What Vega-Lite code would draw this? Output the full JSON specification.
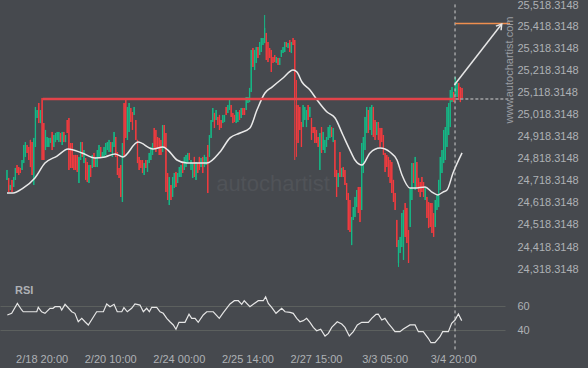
{
"$schema":"https://vega.github.io/schema/vega-lite/v6.json",
"width":505,"height":350,
"autosize":{"type":"none"},
"padding":{"left":0,"top":0,"right":83,"bottom":18},
"background":"#46494e",
"config":{"view":{"stroke":null},"font":"Liberation Sans","axis":{"labelFont":"Liberation Sans","labelFontSize":11,"labelColor":"#aeb1b5","ticks":false,"domain":false,"grid":false}},
"datasets":{
"candles":[
{"k":0,"o":24722,"h":24767,"l":24722,"c":24767},{"k":1,"o":24731,"h":24731,"l":24667,"c":24667},{"k":2,"o":24676,"h":24699,"l":24676,"c":24699},{"k":3,"o":24722,"h":24722,"l":24667,"c":24667},{"k":4,"o":24690,"h":24735,"l":24690,"c":24735},{"k":5,"o":24722,"h":24776,"l":24722,"c":24776},{"k":6,"o":24789,"h":24789,"l":24753,"c":24753},{"k":7,"o":24780,"h":24780,"l":24744,"c":24744},{"k":8,"o":24776,"h":24776,"l":24753,"c":24753},{"k":9,"o":24767,"h":24812,"l":24767,"c":24812},
{"k":10,"o":24798,"h":24880,"l":24798,"c":24880},{"k":11,"o":24826,"h":24893,"l":24826,"c":24893},{"k":12,"o":24880,"h":24880,"l":24844,"c":24844},{"k":13,"o":24871,"h":24871,"l":24812,"c":24812},{"k":14,"o":24903,"h":24903,"l":24780,"c":24780},{"k":15,"o":24893,"h":24893,"l":24744,"c":24744},{"k":16,"o":24699,"h":24912,"l":24699,"c":24912},{"k":17,"o":24871,"h":25052,"l":24871,"c":25052},{"k":18,"o":25002,"h":25038,"l":25002,"c":25038},{"k":19,"o":25070,"h":25070,"l":24979,"c":24979},
{"k":20,"o":24979,"h":25038,"l":24979,"c":25038},{"k":21,"o":25093,"h":25093,"l":24812,"c":24812},{"k":22,"o":24979,"h":24979,"l":24812,"c":24812},{"k":23,"o":24857,"h":24948,"l":24857,"c":24948},{"k":24,"o":24871,"h":24916,"l":24871,"c":24916},{"k":25,"o":24871,"h":24912,"l":24871,"c":24912},{"k":26,"o":24889,"h":24912,"l":24889,"c":24912},{"k":27,"o":24939,"h":24939,"l":24857,"c":24857},{"k":28,"o":24871,"h":24925,"l":24871,"c":24925},{"k":29,"o":24893,"h":24934,"l":24893,"c":24934},
{"k":30,"o":24903,"h":24939,"l":24903,"c":24939},{"k":31,"o":24893,"h":24939,"l":24893,"c":24939},{"k":32,"o":24934,"h":24934,"l":24893,"c":24893},{"k":33,"o":24880,"h":24939,"l":24880,"c":24939},{"k":34,"o":24939,"h":24939,"l":24893,"c":24893},{"k":35,"o":24893,"h":24925,"l":24893,"c":24925},{"k":36,"o":24993,"h":24993,"l":24934,"c":24934},{"k":37,"o":25002,"h":25002,"l":24767,"c":24767},{"k":38,"o":24889,"h":24889,"l":24776,"c":24776},{"k":39,"o":24889,"h":24889,"l":24776,"c":24776},
{"k":40,"o":24835,"h":24835,"l":24767,"c":24767},{"k":41,"o":24835,"h":24835,"l":24767,"c":24767},{"k":42,"o":24835,"h":24835,"l":24758,"c":24758},{"k":43,"o":24708,"h":24826,"l":24708,"c":24826},{"k":44,"o":24812,"h":24893,"l":24812,"c":24893},{"k":45,"o":24893,"h":24893,"l":24826,"c":24826},{"k":46,"o":24798,"h":24857,"l":24798,"c":24857},{"k":47,"o":24821,"h":24821,"l":24722,"c":24722},{"k":48,"o":24803,"h":24803,"l":24712,"c":24712},{"k":49,"o":24708,"h":24789,"l":24708,"c":24789},
{"k":50,"o":24789,"h":24789,"l":24735,"c":24735},{"k":51,"o":24776,"h":24835,"l":24776,"c":24835},{"k":52,"o":24844,"h":24844,"l":24780,"c":24780},{"k":53,"o":24780,"h":24826,"l":24780,"c":24826},{"k":54,"o":24780,"h":24857,"l":24780,"c":24857},{"k":55,"o":24821,"h":24880,"l":24821,"c":24880},{"k":56,"o":24871,"h":24871,"l":24821,"c":24821},{"k":57,"o":24826,"h":24848,"l":24826,"c":24848},{"k":58,"o":24821,"h":24871,"l":24821,"c":24871},{"k":59,"o":24835,"h":24889,"l":24835,"c":24889},
{"k":60,"o":24857,"h":24893,"l":24857,"c":24893},{"k":61,"o":24848,"h":24903,"l":24848,"c":24903},{"k":62,"o":24893,"h":24893,"l":24848,"c":24848},{"k":63,"o":24826,"h":24893,"l":24826,"c":24893},{"k":64,"o":24871,"h":24939,"l":24871,"c":24939},{"k":65,"o":24916,"h":24916,"l":24826,"c":24826},{"k":66,"o":24848,"h":24848,"l":24744,"c":24744},{"k":67,"o":24776,"h":24776,"l":24731,"c":24731},{"k":68,"o":24789,"h":24789,"l":24645,"c":24645},{"k":69,"o":24622,"h":24889,"l":24622,"c":24889},
{"k":70,"o":25070,"h":25070,"l":24826,"c":24826},{"k":71,"o":25084,"h":25084,"l":24912,"c":24912},{"k":72,"o":24903,"h":25052,"l":24903,"c":25052},{"k":73,"o":24939,"h":25070,"l":24939,"c":25070},{"k":74,"o":25047,"h":25047,"l":24984,"c":24984},{"k":75,"o":25029,"h":25029,"l":24948,"c":24948},{"k":76,"o":25016,"h":25052,"l":25016,"c":25052},{"k":77,"o":24993,"h":24993,"l":24903,"c":24903},{"k":78,"o":24903,"h":24903,"l":24798,"c":24798},{"k":79,"o":24826,"h":24826,"l":24767,"c":24767},
{"k":80,"o":24812,"h":24812,"l":24776,"c":24776},{"k":81,"o":24812,"h":24812,"l":24753,"c":24753},{"k":82,"o":24744,"h":24798,"l":24744,"c":24798},{"k":83,"o":24812,"h":24812,"l":24776,"c":24776},{"k":84,"o":24758,"h":24812,"l":24758,"c":24812},{"k":85,"o":24798,"h":24844,"l":24798,"c":24844},{"k":86,"o":24812,"h":24871,"l":24812,"c":24871},{"k":87,"o":24835,"h":24889,"l":24835,"c":24889},{"k":88,"o":24957,"h":24957,"l":24866,"c":24866},{"k":89,"o":24948,"h":24948,"l":24848,"c":24848},
{"k":90,"o":24916,"h":24916,"l":24866,"c":24866},{"k":91,"o":24912,"h":24912,"l":24835,"c":24835},{"k":92,"o":24903,"h":24903,"l":24835,"c":24835},{"k":93,"o":24848,"h":24970,"l":24848,"c":24970},{"k":94,"o":24970,"h":24970,"l":24871,"c":24871},{"k":95,"o":24934,"h":24934,"l":24667,"c":24667},{"k":96,"o":24753,"h":24753,"l":24631,"c":24631},{"k":97,"o":24608,"h":24735,"l":24608,"c":24735},{"k":98,"o":24699,"h":24699,"l":24631,"c":24631},{"k":99,"o":24645,"h":24735,"l":24645,"c":24735},
{"k":100,"o":24685,"h":24753,"l":24685,"c":24753},{"k":101,"o":24758,"h":24758,"l":24690,"c":24690},{"k":102,"o":24708,"h":24753,"l":24708,"c":24753},{"k":103,"o":24735,"h":24780,"l":24735,"c":24780},{"k":104,"o":24735,"h":24789,"l":24735,"c":24789},{"k":105,"o":24803,"h":24803,"l":24753,"c":24753},{"k":106,"o":24767,"h":24826,"l":24767,"c":24826},{"k":107,"o":24780,"h":24835,"l":24780,"c":24835},{"k":108,"o":24798,"h":24844,"l":24798,"c":24844},{"k":109,"o":24844,"h":24844,"l":24812,"c":24812},
{"k":110,"o":24767,"h":24812,"l":24767,"c":24812},{"k":111,"o":24731,"h":24798,"l":24731,"c":24798},{"k":112,"o":24826,"h":24826,"l":24735,"c":24735},{"k":113,"o":24722,"h":24803,"l":24722,"c":24803},{"k":114,"o":24798,"h":24798,"l":24753,"c":24753},{"k":115,"o":24826,"h":24826,"l":24767,"c":24767},{"k":116,"o":24780,"h":24821,"l":24780,"c":24821},{"k":117,"o":24826,"h":24826,"l":24753,"c":24753},{"k":118,"o":24780,"h":24835,"l":24780,"c":24835},{"k":119,"o":24789,"h":24826,"l":24789,"c":24826},
{"k":120,"o":24880,"h":24880,"l":24663,"c":24663},{"k":121,"o":24826,"h":24925,"l":24826,"c":24925},{"k":122,"o":24912,"h":24993,"l":24912,"c":24993},{"k":123,"o":24984,"h":25047,"l":24984,"c":25047},{"k":124,"o":25025,"h":25025,"l":24957,"c":24957},{"k":125,"o":24993,"h":25038,"l":24993,"c":25038},{"k":126,"o":25007,"h":25007,"l":24970,"c":24970},{"k":127,"o":25016,"h":25016,"l":24948,"c":24948},{"k":128,"o":24993,"h":24993,"l":24957,"c":24957},{"k":129,"o":24979,"h":25016,"l":24979,"c":25016},
{"k":130,"o":24984,"h":25016,"l":24984,"c":25016},{"k":131,"o":25052,"h":25052,"l":25016,"c":25016},{"k":132,"o":25025,"h":25061,"l":25025,"c":25061},{"k":133,"o":25038,"h":25084,"l":25038,"c":25084},{"k":134,"o":25061,"h":25061,"l":25007,"c":25007},{"k":135,"o":25025,"h":25025,"l":24979,"c":24979},{"k":136,"o":25016,"h":25016,"l":24984,"c":24984},{"k":137,"o":24979,"h":25038,"l":24979,"c":25038},{"k":138,"o":24984,"h":25029,"l":24984,"c":25029},{"k":139,"o":25038,"h":25038,"l":24993,"c":24993},
{"k":140,"o":25002,"h":25047,"l":25002,"c":25047},{"k":141,"o":25047,"h":25047,"l":25016,"c":25016},{"k":142,"o":25047,"h":25047,"l":25016,"c":25016},{"k":143,"o":25038,"h":25097,"l":25038,"c":25097},{"k":144,"o":25070,"h":25097,"l":25070,"c":25097},{"k":145,"o":25074,"h":25138,"l":25074,"c":25138},{"k":146,"o":25120,"h":25310,"l":25120,"c":25310},{"k":147,"o":25319,"h":25319,"l":25233,"c":25233},{"k":148,"o":25219,"h":25310,"l":25219,"c":25310},{"k":149,"o":25251,"h":25323,"l":25251,"c":25323},
{"k":150,"o":25323,"h":25323,"l":25274,"c":25274},{"k":151,"o":25287,"h":25346,"l":25287,"c":25346},{"k":152,"o":25301,"h":25364,"l":25301,"c":25364},{"k":153,"o":25332,"h":25364,"l":25332,"c":25364},{"k":154,"o":25341,"h":25468,"l":25341,"c":25410},{"k":155,"o":25387,"h":25387,"l":25265,"c":25265},{"k":156,"o":25346,"h":25346,"l":25255,"c":25255},{"k":157,"o":25319,"h":25319,"l":25274,"c":25274},{"k":158,"o":25310,"h":25310,"l":25210,"c":25210},{"k":159,"o":25278,"h":25278,"l":25251,"c":25251},
{"k":160,"o":25287,"h":25287,"l":25255,"c":25255},{"k":161,"o":25251,"h":25278,"l":25251,"c":25278},{"k":162,"o":25274,"h":25274,"l":25242,"c":25242},{"k":163,"o":25242,"h":25274,"l":25242,"c":25274},{"k":164,"o":25278,"h":25310,"l":25278,"c":25310},{"k":165,"o":25296,"h":25323,"l":25296,"c":25323},{"k":166,"o":25301,"h":25346,"l":25301,"c":25346},{"k":167,"o":25346,"h":25346,"l":25323,"c":25323},{"k":168,"o":25319,"h":25341,"l":25319,"c":25341},{"k":169,"o":25355,"h":25355,"l":25301,"c":25301},
{"k":170,"o":25296,"h":25346,"l":25296,"c":25346},{"k":171,"o":25364,"h":25364,"l":25332,"c":25332},{"k":172,"o":25355,"h":25355,"l":24812,"c":25084},{"k":173,"o":25061,"h":25174,"l":24826,"c":24903},{"k":174,"o":25061,"h":25061,"l":24889,"c":24889},{"k":175,"o":25052,"h":25052,"l":24948,"c":24948},{"k":176,"o":24984,"h":24984,"l":24871,"c":24871},{"k":177,"o":24961,"h":25061,"l":24961,"c":25061},{"k":178,"o":24993,"h":25052,"l":24993,"c":25052},{"k":179,"o":24961,"h":25038,"l":24961,"c":25038},
{"k":180,"o":25061,"h":25061,"l":24993,"c":24993},{"k":181,"o":25007,"h":25052,"l":25007,"c":25052},{"k":182,"o":25002,"h":25002,"l":24903,"c":24903},{"k":183,"o":24961,"h":24961,"l":24934,"c":24934},{"k":184,"o":24961,"h":24961,"l":24889,"c":24889},{"k":185,"o":24948,"h":24948,"l":24889,"c":24889},{"k":186,"o":24916,"h":24916,"l":24871,"c":24871},{"k":187,"o":24767,"h":24934,"l":24767,"c":24934},{"k":188,"o":24961,"h":24961,"l":24844,"c":24844},{"k":189,"o":24857,"h":24939,"l":24857,"c":24939},
{"k":190,"o":24844,"h":24903,"l":24844,"c":24903},{"k":191,"o":24871,"h":24916,"l":24871,"c":24916},{"k":192,"o":24903,"h":24961,"l":24903,"c":24961},{"k":193,"o":24912,"h":24970,"l":24912,"c":24970},{"k":194,"o":24961,"h":24961,"l":24916,"c":24916},{"k":195,"o":24893,"h":24957,"l":24893,"c":24957},{"k":196,"o":24903,"h":24903,"l":24735,"c":24735},{"k":197,"o":24767,"h":24767,"l":24645,"c":24645},{"k":198,"o":24690,"h":24753,"l":24690,"c":24753},{"k":199,"o":24848,"h":24848,"l":24735,"c":24735},
{"k":200,"o":24735,"h":24776,"l":24735,"c":24776},{"k":201,"o":24780,"h":24780,"l":24735,"c":24735},{"k":202,"o":24767,"h":24767,"l":24699,"c":24699},{"k":203,"o":24708,"h":24708,"l":24631,"c":24631},{"k":204,"o":24663,"h":24663,"l":24495,"c":24495},{"k":205,"o":24631,"h":24631,"l":24486,"c":24486},{"k":206,"o":24427,"h":24554,"l":24427,"c":24554},{"k":207,"o":24541,"h":24599,"l":24541,"c":24599},{"k":208,"o":24554,"h":24645,"l":24554,"c":24645},{"k":209,"o":24599,"h":24676,"l":24599,"c":24676},
{"k":210,"o":24690,"h":24690,"l":24572,"c":24572},{"k":211,"o":24690,"h":24690,"l":24531,"c":24531},{"k":212,"o":24586,"h":24889,"l":24586,"c":24889},{"k":213,"o":24753,"h":24916,"l":24753,"c":24916},{"k":214,"o":24857,"h":25007,"l":24857,"c":25007},{"k":215,"o":24934,"h":25052,"l":24934,"c":25052},{"k":216,"o":25038,"h":25038,"l":24934,"c":24934},{"k":217,"o":24948,"h":25052,"l":24948,"c":25052},{"k":218,"o":24925,"h":25061,"l":24925,"c":25061},{"k":219,"o":25052,"h":25052,"l":24916,"c":24916},
{"k":220,"o":24993,"h":24993,"l":24903,"c":24903},{"k":221,"o":24925,"h":24984,"l":24925,"c":24984},{"k":222,"o":24984,"h":24984,"l":24903,"c":24903},{"k":223,"o":24957,"h":24957,"l":24871,"c":24871},{"k":224,"o":24957,"h":24957,"l":24893,"c":24893},{"k":225,"o":24925,"h":24925,"l":24835,"c":24835},{"k":226,"o":24844,"h":24844,"l":24758,"c":24758},{"k":227,"o":24835,"h":24835,"l":24780,"c":24780},{"k":228,"o":24826,"h":24826,"l":24735,"c":24735},{"k":229,"o":24812,"h":24812,"l":24708,"c":24708},
{"k":230,"o":24803,"h":24803,"l":24663,"c":24663},{"k":231,"o":24722,"h":24722,"l":24622,"c":24622},{"k":232,"o":24663,"h":24663,"l":24586,"c":24586},{"k":233,"o":24541,"h":24541,"l":24418,"c":24418},{"k":234,"o":24346,"h":24450,"l":24328,"c":24450},{"k":235,"o":24391,"h":24464,"l":24391,"c":24464},{"k":236,"o":24418,"h":24572,"l":24418,"c":24572},{"k":237,"o":24360,"h":24586,"l":24360,"c":24586},{"k":238,"o":24617,"h":24617,"l":24464,"c":24464},{"k":239,"o":24595,"h":24595,"l":24436,"c":24436},
{"k":240,"o":24495,"h":24495,"l":24346,"c":24346},{"k":241,"o":24509,"h":24685,"l":24509,"c":24685},{"k":242,"o":24631,"h":24798,"l":24631,"c":24798},{"k":243,"o":24798,"h":24798,"l":24708,"c":24708},{"k":244,"o":24676,"h":24826,"l":24676,"c":24826},{"k":245,"o":24803,"h":24803,"l":24685,"c":24685},{"k":246,"o":24731,"h":24731,"l":24667,"c":24667},{"k":247,"o":24712,"h":24712,"l":24645,"c":24645},{"k":248,"o":24735,"h":24735,"l":24667,"c":24667},{"k":249,"o":24712,"h":24712,"l":24645,"c":24645},
{"k":250,"o":24631,"h":24690,"l":24631,"c":24690},{"k":251,"o":24645,"h":24645,"l":24550,"c":24550},{"k":252,"o":24622,"h":24622,"l":24504,"c":24504},{"k":253,"o":24617,"h":24617,"l":24509,"c":24509},{"k":254,"o":24617,"h":24617,"l":24482,"c":24482},{"k":255,"o":24572,"h":24572,"l":24464,"c":24464},{"k":256,"o":24509,"h":24631,"l":24509,"c":24631},{"k":257,"o":24586,"h":24654,"l":24586,"c":24654},{"k":258,"o":24599,"h":24722,"l":24599,"c":24722},{"k":259,"o":24676,"h":24826,"l":24676,"c":24826},
{"k":260,"o":24753,"h":24857,"l":24753,"c":24857},{"k":261,"o":24798,"h":24948,"l":24798,"c":24948},{"k":262,"o":24812,"h":24961,"l":24812,"c":24961},{"k":263,"o":24871,"h":25052,"l":24871,"c":25052},{"k":264,"o":24925,"h":25070,"l":24925,"c":25070},{"k":265,"o":24961,"h":25129,"l":24961,"c":25129},{"k":266,"o":25074,"h":25142,"l":25074,"c":25142},{"k":267,"o":25120,"h":25120,"l":25074,"c":25074},{"k":268,"o":25106,"h":25188,"l":25106,"c":25188},{"k":269,"o":25097,"h":25160,"l":25097,"c":25160},
{"k":270,"o":25160,"h":25160,"l":25084,"c":25084},{"k":271,"o":25142,"h":25142,"l":25074,"c":25074},{"k":272,"o":25138,"h":25138,"l":25093,"c":25093}
],
"ma":[
{"k":0,"p":24663},{"k":3.6,"p":24663},{"k":9.6,"p":24685},{"k":16.7,"p":24731},{"k":22.7,"p":24798},{"k":29.9,"p":24830},{"k":36.5,"p":24862},{"k":44.8,"p":24844},{"k":52.6,"p":24821},{"k":58.6,"p":24826},{"k":64.6,"p":24839},{"k":69.3,"p":24826},{"k":78.3,"p":24893},{"k":87.3,"p":24862},{"k":93.2,"p":24871},{"k":96.2,"p":24857},{"k":101.6,"p":24812},{"k":107.6,"p":24798},{"k":119.5,"p":24798},{"k":127.3,"p":24848},{"k":133.3,"p":24912},{"k":139.3,"p":24934},{"k":145.2,"p":24957},{"k":149.4,"p":25038},{"k":154.2,"p":25115},{"k":158.4,"p":25142},{"k":165,"p":25183},{"k":171,"p":25219},{"k":173.3,"p":25210},{"k":176.3,"p":25165},{"k":181.1,"p":25129},{"k":185.3,"p":25084},{"k":191.3,"p":25029},{"k":196.1,"p":25002},{"k":200.8,"p":24925},{"k":205,"p":24857},{"k":208,"p":24812},{"k":212.2,"p":24789},{"k":217,"p":24844},{"k":223,"p":24866},{"k":228.9,"p":24848},{"k":233.1,"p":24812},{"k":236.1,"p":24744},{"k":240.9,"p":24685},{"k":243.9,"p":24685},{"k":249.9,"p":24690},{"k":254,"p":24667},{"k":257.6,"p":24654},{"k":260.6,"p":24667},{"k":263,"p":24676},{"k":266.6,"p":24753},{"k":272,"p":24844}
],
"rsi":[
{"k":0.2,"r":52.5},{"k":2.8,"r":53.9},{"k":6.2,"r":62.2},{"k":8.8,"r":56.7},{"k":9.7,"r":55.2},{"k":17.8,"r":55.2},{"k":18.7,"r":58.9},{"k":20.7,"r":55.2},{"k":22.7,"r":53.9},{"k":25.7,"r":58.1},{"k":27.5,"r":58.1},{"k":28.7,"r":59.4},{"k":31.7,"r":59.4},{"k":32.7,"r":56.7},{"k":34.7,"r":61.4},{"k":38.7,"r":55.2},{"k":40.6,"r":53.9},{"k":42.6,"r":46.9},{"k":44.7,"r":49.7},{"k":46.6,"r":46.9},{"k":48.6,"r":44.2},{"k":53.6,"r":55.2},{"k":57.6,"r":55.2},{"k":59.6,"r":61.7},{"k":61.6,"r":59.4},{"k":64,"r":61.4},{"k":65.9,"r":55.2},{"k":68.6,"r":55.2},{"k":69.9,"r":58.6},{"k":71.9,"r":55.2},{"k":74.5,"r":58.1},{"k":76.5,"r":61.7},{"k":79.5,"r":60.8},{"k":81.5,"r":55.2},{"k":83.5,"r":58.1},{"k":85.1,"r":55.2},{"k":86.5,"r":58.9},{"k":89.5,"r":58.9},{"k":91.5,"r":55.2},{"k":93.4,"r":53.9},{"k":95.5,"r":49.7},{"k":97.4,"r":46.9},{"k":99.4,"r":44.2},{"k":101,"r":40.6},{"k":102.8,"r":46.4},{"k":106.4,"r":46.4},{"k":108.8,"r":53.1},{"k":110.4,"r":49.7},{"k":112.4,"r":49.7},{"k":114.3,"r":46.4},{"k":117.3,"r":52.5},{"k":119.4,"r":55.2},{"k":123.3,"r":55.2},{"k":126.9,"r":49.7},{"k":129.3,"r":54.4},{"k":133.3,"r":61.7},{"k":135.9,"r":64.4},{"k":138.3,"r":64.4},{"k":140.3,"r":61.4},{"k":141.8,"r":64.4},{"k":145.2,"r":59.4},{"k":147.2,"r":61.4},{"k":150.2,"r":64.4},{"k":153.2,"r":64.4},{"k":154.6,"r":67.7},{"k":156.2,"r":62.2},{"k":158.2,"r":58.9},{"k":160.8,"r":53.9},{"k":164.2,"r":58.1},{"k":166.2,"r":55.2},{"k":169.2,"r":54.7},{"k":171.1,"r":53.9},{"k":173.2,"r":49.7},{"k":175.1,"r":46.9},{"k":177.1,"r":47.8},{"k":179.1,"r":49.7},{"k":181.1,"r":46.4},{"k":183.1,"r":42.2},{"k":185.1,"r":39.4},{"k":187.5,"r":40.6},{"k":190.1,"r":35},{"k":192.1,"r":37.2},{"k":194.1,"r":42.2},{"k":197.4,"r":46.9},{"k":200.1,"r":45},{"k":202,"r":42.2},{"k":204.6,"r":35},{"k":207,"r":38.6},{"k":209.4,"r":44.2},{"k":212,"r":46.4},{"k":216,"r":46.4},{"k":218,"r":49.7},{"k":220.6,"r":53.1},{"k":221.9,"r":53.3},{"k":224,"r":48.3},{"k":225.9,"r":49.7},{"k":227.9,"r":45.6},{"k":229.9,"r":42.2},{"k":231.9,"r":38.6},{"k":234.9,"r":38.6},{"k":236.9,"r":40.8},{"k":240.9,"r":44.2},{"k":243.9,"r":44.2},{"k":245.9,"r":38.6},{"k":248.8,"r":38.6},{"k":251.8,"r":33.1},{"k":253.4,"r":29.4},{"k":255.8,"r":29.4},{"k":258.8,"r":34.4},{"k":260.4,"r":38.6},{"k":263.8,"r":38.6},{"k":265.8,"r":45.6},{"k":267.8,"r":48.3},{"k":269.8,"r":53.3},{"k":271.8,"r":47.8}
]
},
"encoding":{"x":{"field":"k","type":"quantitative","scale":{"domain":[-4.18,297.67],"nice":false,"zero":false,"padding":0},"axis":{"orient":"bottom","title":null,"values":[20.7,61.7,102.7,143.7,184.7,225.7,266.7],"labelExpr":"datum.value < 40 ? '2/18 20:00' : datum.value < 80 ? '2/20 10:00' : datum.value < 120 ? '2/24 00:00' : datum.value < 160 ? '2/25 14:00' : datum.value < 200 ? '2/27 15:00' : datum.value < 245 ? '3/3 05:00' : '3/4 20:00'","labelPadding":3,"labelFlush":false,"labelOverlap":false}}},
"layer":[
{"layer":[
{"data":{"values":[{"k":159,"p":24672,"t":"autochartist"}]},"mark":{"type":"text","align":"center","baseline":"alphabetic","fontSize":22,"color":"#505358"},"encoding":{"y":{"field":"p","type":"quantitative","scale":{"domain":[24318.3148,25518.3148],"range":[269.1,3.9],"nice":false,"zero":false,"padding":0},"axis":{"orient":"right","title":null,"values":[24318.3148,24418.3148,24518.3148,24618.3148,24718.3148,24818.3148,24918.3148,25018.3148,25118.3148,25218.3148,25318.3148,25418.3148,25518.3148],"format":",.4f","labelPadding":12,"labelAlign":"left","labelBaseline":"middle","labelOverlap":false,"labelFlush":false,"labelOffset":{"condition":{"test":"datum.value > 25500","value":2},"value":0}}},"text":{"field":"t"}}},
{"data":{"name":"candles"},"mark":{"type":"rule","strokeWidth":1},"encoding":{"y":{"field":"l","type":"quantitative","scale":{"domain":[24318.3148,25518.3148],"range":[269.1,3.9],"nice":false,"zero":false,"padding":0},"axis":{"orient":"right","title":null,"values":[24318.3148,24418.3148,24518.3148,24618.3148,24718.3148,24818.3148,24918.3148,25018.3148,25118.3148,25218.3148,25318.3148,25418.3148,25518.3148],"format":",.4f","labelPadding":12,"labelAlign":"left","labelBaseline":"middle","labelOverlap":false,"labelFlush":false,"labelOffset":{"condition":{"test":"datum.value > 25500","value":2},"value":0}}},"y2":{"field":"h"},"color":{"condition":{"test":"datum.c >= datum.o","value":"#15b886"},"value":"#f23b3f"}}},
{"data":{"name":"candles"},"mark":{"type":"bar","width":1.3},"encoding":{"y":{"field":"o","type":"quantitative","scale":{"domain":[24318.3148,25518.3148],"range":[269.1,3.9],"nice":false,"zero":false,"padding":0},"axis":{"orient":"right","title":null,"values":[24318.3148,24418.3148,24518.3148,24618.3148,24718.3148,24818.3148,24918.3148,25018.3148,25118.3148,25218.3148,25318.3148,25418.3148,25518.3148],"format":",.4f","labelPadding":12,"labelAlign":"left","labelBaseline":"middle","labelOverlap":false,"labelFlush":false,"labelOffset":{"condition":{"test":"datum.value > 25500","value":2},"value":0}}},"y2":{"field":"c"},"color":{"condition":{"test":"datum.c >= datum.o","value":"#15b886"},"value":"#f23b3f"}}},
{"data":{"name":"ma"},"mark":{"type":"line","color":"#e9e9e9","strokeWidth":1.5,"interpolate":"monotone"},"encoding":{"y":{"field":"p","type":"quantitative","scale":{"domain":[24318.3148,25518.3148],"range":[269.1,3.9],"nice":false,"zero":false,"padding":0},"axis":{"orient":"right","title":null,"values":[24318.3148,24418.3148,24518.3148,24618.3148,24718.3148,24818.3148,24918.3148,25018.3148,25118.3148,25218.3148,25318.3148,25418.3148,25518.3148],"format":",.4f","labelPadding":12,"labelAlign":"left","labelBaseline":"middle","labelOverlap":false,"labelFlush":false,"labelOffset":{"condition":{"test":"datum.value > 25500","value":2},"value":0}}}}},
{"data":{"values":[{"k":21.5,"k2":268,"p":25088}]},"mark":{"type":"rule","color":"#e2434a","strokeWidth":2.5},"encoding":{"x2":{"field":"k2"},"y":{"field":"p","type":"quantitative","scale":{"domain":[24318.3148,25518.3148],"range":[269.1,3.9],"nice":false,"zero":false,"padding":0},"axis":{"orient":"right","title":null,"values":[24318.3148,24418.3148,24518.3148,24618.3148,24718.3148,24818.3148,24918.3148,25018.3148,25118.3148,25218.3148,25318.3148,25418.3148,25518.3148],"format":",.4f","labelPadding":12,"labelAlign":"left","labelBaseline":"middle","labelOverlap":false,"labelFlush":false,"labelOffset":{"condition":{"test":"datum.value > 25500","value":2},"value":0}}}}},
{"data":{"values":[{"k":268,"k2":303.7,"p":25088}]},"mark":{"type":"rule","color":"#cfcfcf","strokeWidth":1,"strokeDash":[3,2]},"encoding":{"x2":{"field":"k2"},"y":{"field":"p","type":"quantitative","scale":{"domain":[24318.3148,25518.3148],"range":[269.1,3.9],"nice":false,"zero":false,"padding":0},"axis":{"orient":"right","title":null,"values":[24318.3148,24418.3148,24518.3148,24618.3148,24718.3148,24818.3148,24918.3148,25018.3148,25118.3148,25218.3148,25318.3148,25418.3148,25518.3148],"format":",.4f","labelPadding":12,"labelAlign":"left","labelBaseline":"middle","labelOverlap":false,"labelFlush":false,"labelOffset":{"condition":{"test":"datum.value > 25500","value":2},"value":0}}}}},
{"data":{"values":[{"k":267.8,"p":25516,"p2":23952}]},"mark":{"type":"rule","color":"#cfcfcf","strokeWidth":1,"strokeDash":[3,3]},"encoding":{"y":{"field":"p","type":"quantitative","scale":{"domain":[24318.3148,25518.3148],"range":[269.1,3.9],"nice":false,"zero":false,"padding":0},"axis":{"orient":"right","title":null,"values":[24318.3148,24418.3148,24518.3148,24618.3148,24718.3148,24818.3148,24918.3148,25018.3148,25118.3148,25218.3148,25318.3148,25418.3148,25518.3148],"format":",.4f","labelPadding":12,"labelAlign":"left","labelBaseline":"middle","labelOverlap":false,"labelFlush":false,"labelOffset":{"condition":{"test":"datum.value > 25500","value":2},"value":0}}},"y2":{"field":"p2"}}},
{"data":{"values":[{"k":267.8,"k2":300.7,"p":25430}]},"mark":{"type":"rule","color":"#ef8f4f","strokeWidth":1.5},"encoding":{"x2":{"field":"k2"},"y":{"field":"p","type":"quantitative","scale":{"domain":[24318.3148,25518.3148],"range":[269.1,3.9],"nice":false,"zero":false,"padding":0},"axis":{"orient":"right","title":null,"values":[24318.3148,24418.3148,24518.3148,24618.3148,24718.3148,24818.3148,24918.3148,25018.3148,25118.3148,25218.3148,25318.3148,25418.3148,25518.3148],"format":",.4f","labelPadding":12,"labelAlign":"left","labelBaseline":"middle","labelOverlap":false,"labelFlush":false,"labelOffset":{"condition":{"test":"datum.value > 25500","value":2},"value":0}}}}},
{"data":{"values":[{"k":267.4,"k2":295.7,"p":25151,"p2":25427}]},"mark":{"type":"rule","color":"#e6e6e6","strokeWidth":1.5},"encoding":{"x2":{"field":"k2"},"y":{"field":"p","type":"quantitative","scale":{"domain":[24318.3148,25518.3148],"range":[269.1,3.9],"nice":false,"zero":false,"padding":0},"axis":{"orient":"right","title":null,"values":[24318.3148,24418.3148,24518.3148,24618.3148,24718.3148,24818.3148,24918.3148,25018.3148,25118.3148,25218.3148,25318.3148,25418.3148,25518.3148],"format":",.4f","labelPadding":12,"labelAlign":"left","labelBaseline":"middle","labelOverlap":false,"labelFlush":false,"labelOffset":{"condition":{"test":"datum.value > 25500","value":2},"value":0}}},"y2":{"field":"p2"}}},
{"data":{"values":[{"k":295.7,"p":25427}]},"mark":{"type":"point","shape":"M-0.7,1.1L0,0L0.7,1.1","angle":38,"size":90,"filled":false,"color":"#e6e6e6","strokeWidth":1.5,"opacity":1},"encoding":{"y":{"field":"p","type":"quantitative","scale":{"domain":[24318.3148,25518.3148],"range":[269.1,3.9],"nice":false,"zero":false,"padding":0},"axis":{"orient":"right","title":null,"values":[24318.3148,24418.3148,24518.3148,24618.3148,24718.3148,24818.3148,24918.3148,25018.3148,25118.3148,25218.3148,25318.3148,25418.3148,25518.3148],"format":",.4f","labelPadding":12,"labelAlign":"left","labelBaseline":"middle","labelOverlap":false,"labelFlush":false,"labelOffset":{"condition":{"test":"datum.value > 25500","value":2},"value":0}}}}},
{"data":{"values":[{"k":300.7,"p":25219,"t":"www.autochartist.com"}]},"mark":{"type":"text","angle":270,"align":"center","baseline":"middle","fontSize":11,"color":"#9a9da2"},"encoding":{"y":{"field":"p","type":"quantitative","scale":{"domain":[24318.3148,25518.3148],"range":[269.1,3.9],"nice":false,"zero":false,"padding":0},"axis":{"orient":"right","title":null,"values":[24318.3148,24418.3148,24518.3148,24618.3148,24718.3148,24818.3148,24918.3148,25018.3148,25118.3148,25218.3148,25318.3148,25418.3148,25518.3148],"format":",.4f","labelPadding":12,"labelAlign":"left","labelBaseline":"middle","labelOverlap":false,"labelFlush":false,"labelOffset":{"condition":{"test":"datum.value > 25500","value":2},"value":0}}},"text":{"field":"t"}}}
]},
{"layer":[
{"data":{"name":"rsi"},"mark":{"type":"line","color":"#e6e6e6","strokeWidth":1.2},"encoding":{"y":{"field":"r","type":"quantitative","scale":{"domain":[20,80],"range":[354,282],"nice":false,"zero":false,"padding":0},"axis":{"orient":"right","title":null,"values":[40,60],"format":"d","labelPadding":12,"labelAlign":"left","labelBaseline":"middle","grid":true,"gridColor":"#5c605e","gridWidth":1,"labelFlush":false}}}},
{"data":{"values":[{"k":4.8,"r":72.5,"t":"RSI"}]},"mark":{"type":"text","align":"left","baseline":"middle","fontSize":11,"fontWeight":"bold","color":"#aeb1b5"},"encoding":{"y":{"field":"r","type":"quantitative","scale":{"domain":[20,80],"range":[354,282],"nice":false,"zero":false,"padding":0},"axis":{"orient":"right","title":null,"values":[40,60],"format":"d","labelPadding":12,"labelAlign":"left","labelBaseline":"middle","grid":true,"gridColor":"#5c605e","gridWidth":1,"labelFlush":false}},"text":{"field":"t"}}}
]}
],
"resolve":{"scale":{"y":"independent"},"axis":{"y":"independent"}}
}
